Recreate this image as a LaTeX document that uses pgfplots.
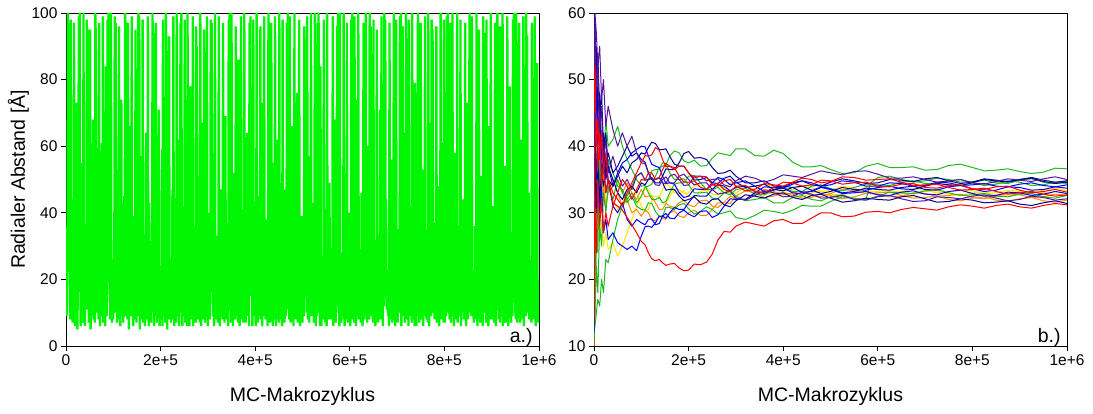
\documentclass[border=0pt]{standalone}
\usepackage{fontspec}
\setmainfont{Liberation Sans}
\usepackage{pgfplots}
\usepackage{pgfplotstable}
\pgfplotsset{compat=1.18}
\definecolor{lgreen}{RGB}{0,245,0}
\definecolor{cred}{RGB}{255,0,0}
\definecolor{cgreen}{RGB}{30,185,30}
\definecolor{cblue}{RGB}{0,0,255}
\definecolor{cnavy}{RGB}{0,0,150}
\definecolor{cpurple}{RGB}{85,20,155}
\definecolor{corange}{RGB}{255,140,0}
\definecolor{cyellow}{RGB}{255,230,0}
\pgfplotstableread[header=false,row sep=\\]{
14\\22\\9\\37\\100\\88\\97\\62\\27\\8\\98\\15\\11\\44\\7\\19\\25\\97\\10\\6\\
28\\13\\73\\9\\5\\16\\21\\99\\85\\100\\30\\6\\17\\55\\10\\24\\7\\100\\14\\9\\
6\\19\\11\\26\\98\\75\\95\\41\\7\\23\\12\\95\\5\\18\\9\\32\\14\\68\\8\\20\\
11\\7\\100\\92\\66\\25\\10\\48\\13\\8\\97\\21\\6\\14\\29\\9\\61\\12\\99\\7\\
17\\10\\23\\6\\84\\14\\9\\27\\98\\80\\100\\19\\36\\8\\13\\100\\22\\7\\15\\9\\
8\\26\\12\\99\\64\\97\\10\\53\\7\\21\\14\\8\\96\\11\\31\\6\\16\\74\\9\\12\\
20\\7\\13\\45\\9\\100\\95\\78\\24\\11\\8\\97\\18\\5\\28\\12\\66\\9\\14\\99\\
10\\16\\6\\22\\12\\39\\8\\95\\13\\7\\19\\26\\9\\100\\87\\99\\5\\57\\21\\8\\
13\\9\\98\\7\\18\\11\\30\\6\\14\\64\\10\\23\\8\\99\\12\\6\\43\\17\\9\\25\\
7\\14\\21\\100\\70\\94\\6\\34\\19\\10\\97\\13\\7\\27\\15\\9\\71\\11\\6\\18\\
24\\8\\11\\59\\6\\98\\16\\9\\13\\22\\7\\100\\91\\75\\5\\38\\12\\8\\93\\14\\
9\\19\\7\\26\\11\\47\\8\\99\\15\\6\\20\\10\\28\\7\\100\\13\\9\\16\\62\\6\\
15\\10\\97\\82\\100\\12\\6\\18\\42\\9\\14\\98\\7\\21\\11\\30\\6\\100\\13\\8\\
12\\6\\19\\78\\10\\25\\8\\14\\99\\6\\17\\9\\36\\11\\7\\96\\68\\90\\8\\51\\
18\\9\\13\\7\\100\\16\\6\\24\\10\\67\\8\\12\\95\\19\\7\\28\\11\\9\\99\\14\\
6\\22\\10\\40\\8\\15\\98\\86\\97\\19\\26\\9\\58\\6\\14\\100\\11\\17\\8\\33\\
11\\7\\17\\99\\13\\6\\21\\9\\47\\10\\16\\8\\97\\12\\24\\7\\15\\69\\9\\20\\
8\\28\\12\\6\\98\\74\\100\\35\\17\\7\\100\\11\\19\\6\\13\\52\\10\\23\\8\\96\\
14\\9\\20\\11\\7\\86\\15\\6\\26\\12\\99\\8\\18\\10\\41\\7\\13\\100\\9\\16\\
7\\17\\10\\64\\9\\13\\24\\6\\97\\80\\99\\20\\15\\30\\6\\12\\98\\9\\19\\11\\
22\\6\\13\\100\\10\\18\\7\\45\\12\\9\\16\\96\\8\\25\\11\\6\\73\\14\\10\\99\\
9\\15\\8\\21\\12\\38\\6\\17\\100\\65\\97\\7\\27\\9\\97\\11\\19\\6\\55\\12\\
16\\8\\99\\11\\6\\19\\14\\62\\9\\23\\7\\100\\12\\16\\8\\34\\10\\6\\98\\13\\
10\\20\\7\\15\\47\\9\\12\\97\\76\\100\\11\\28\\8\\99\\14\\7\\21\\10\\66\\8\\
12\\6\\18\\100\\9\\14\\25\\8\\11\\76\\7\\16\\10\\98\\13\\6\\22\\9\\39\\15\\
7\\23\\11\\9\\96\\71\\92\\17\\30\\10\\99\\8\\15\\12\\7\\57\\19\\9\\100\\11\\
18\\9\\14\\43\\7\\11\\100\\15\\6\\22\\9\\13\\97\\84\\100\\10\\16\\6\\84\\12\\
6\\16\\10\\25\\8\\98\\12\\19\\7\\36\\11\\6\\100\\14\\9\\21\\8\\49\\13\\10\\
14\\8\\22\\11\\99\\6\\17\\9\\68\\13\\7\\24\\10\\96\\79\\100\\12\\31\\6\\100\\
10\\19\\7\\13\\28\\9\\15\\100\\11\\6\\52\\18\\8\\14\\97\\12\\7\\20\\9\\40\\
21\\6\\12\\98\\88\\100\\8\\33\\14\\7\\99\\11\\19\\6\\74\\13\\9\\17\\100\\8\\
9\\14\\27\\7\\11\\46\\10\\6\\18\\97\\12\\8\\23\\15\\100\\9\\13\\7\\60\\11\\
16\\8\\100\\72\\96\\20\\9\\38\\14\\7\\98\\11\\17\\10\\6\\29\\13\\95\\8\\12\\
7\\22\\11\\15\\71\\8\\13\\99\\9\\19\\6\\26\\12\\100\\83\\98\\16\\44\\11\\14\\
12\\9\\18\\6\\97\\14\\8\\23\\10\\56\\7\\15\\11\\100\\9\\21\\6\\13\\98\\10\\
19\\7\\14\\35\\10\\12\\99\\77\\100\\6\\27\\11\\96\\13\\9\\64\\7\\18\\10\\100\\
8\\15\\10\\22\\6\\98\\13\\9\\19\\42\\11\\7\\100\\14\\8\\24\\12\\6\\79\\16\\
13\\6\\20\\11\\100\\86\\97\\7\\30\\12\\97\\8\\18\\10\\53\\6\\14\\22\\9\\99\\
10\\18\\8\\14\\26\\7\\100\\12\\6\\67\\11\\16\\9\\98\\73\\95\\21\\10\\37\\8\\
15\\9\\12\\96\\7\\19\\10\\48\\14\\6\\23\\11\\100\\8\\17\\9\\13\\61\\7\\98\\
11\\7\\24\\13\\9\\99\\81\\100\\10\\33\\12\\8\\97\\15\\7\\20\\11\\100\\9\\14\\
6\\17\\10\\58\\12\\8\\19\\100\\7\\13\\26\\9\\15\\11\\98\\6\\22\\10\\44\\13\\
18\\8\\14\\9\\97\\11\\6\\21\\12\\73\\8\\16\\10\\100\\90\\99\\28\\9\\99\\10\\
9\\13\\7\\20\\11\\36\\14\\8\\100\\10\\6\\18\\12\\95\\9\\24\\7\\15\\51\\11\\
14\\6\\99\\78\\94\\17\\10\\29\\7\\98\\13\\9\\19\\6\\66\\11\\15\\8\\100\\12\\
8\\20\\11\\15\\42\\7\\13\\97\\10\\6\\22\\12\\100\\87\\96\\8\\31\\14\\7\\96\\
12\\9\\17\\100\\6\\14\\11\\54\\8\\19\\7\\25\\13\\99\\10\\6\\18\\12\\78\\9\\
16\\7\\11\\23\\9\\98\\85\\100\\13\\38\\10\\8\\100\\17\\7\\21\\12\\9\\97\\11\\
7\\14\\10\\62\\12\\8\\19\\99\\6\\15\\27\\11\\9\\100\\74\\93\\22\\10\\46\\8\\
13\\9\\24\\11\\7\\97\\16\\8\\12\\33\\10\\99\\14\\6\\18\\9\\85\\11\\7\\20\\
12\\
}\leftdata
\pgfplotsset{
  myax/.style={
    scale only axis, width=473pt, height=333pt,
    axis line style={line width=0.8pt},
    every tick/.style={black, line width=0.8pt},
    tick align=outside, major tick length=5pt,
    xtick pos=left, ytick pos=left,
    xmin=0, xmax=1000,
    xtick={0,200,400,600,800,1000},
    xticklabels={0,2e+5,4e+5,6e+5,8e+5,1e+6},
    ticklabel style={font=\fontsize{15.5}{18}\selectfont},
    label style={font=\fontsize{19.5}{23}\selectfont},
    /pgf/number format/assume math mode=true,
    xlabel={MC-Makrozyklus},
    xlabel style={at={(axis description cs:0.5,-0.168)}, anchor=base},
  },
  rl/.style={line width=1pt, line join=round},
}
\begin{document}
\begin{tikzpicture}[x=1pt,y=1pt]
\path[use as bounding box] (0,0) rectangle (1093,414);
\begin{axis}[myax, at={(66pt,68pt)}, anchor=south west,
  ymin=0, ymax=100, ytick={0,20,40,60,80,100},
  ylabel={Radialer Abstand [Å]},
  ylabel style={at={(axis description cs:-0.0867,0.5)}, anchor=base},
]
\addplot[lgreen, line width=2.3pt] table[x expr=\coordindex, y index=0] {\leftdata};
\node[anchor=base east, inner sep=0pt, font=\fontsize{19.5}{23}\selectfont] at (rel axis cs:0.987,0.009) {a.)};
\end{axis}
\begin{axis}[myax, at={(594pt,68pt)}, anchor=south west,
  ymin=10, ymax=60, ytick={10,20,30,40,50,60},
]
% yellow
\addplot[cyellow, rl] coordinates {(0,20)(2,35)(5,28)(8,32)(12,26)(16,29)(20,25)(25,27)(30,24.5)(40,25.5)(50,23.5)(60,25)(70,27)(80,29)(90,31)(100,32.5)(108,33.6)(115,33.5)(122,32.5)(130,32.5)(138,32.5)(145,31.5)(152,31.4)(160,32.5)(170,33.5)(180,33.5)(190,32.8)(200,33)(212,34.1)(225,34)(238,33.3)(250,33.5)(262,34.2)(275,33.8)(288,32.8)(300,33)(320,33.8)(340,33.5)(360,32.8)(380,33)(400,33.2)(420,32.5)(440,32.4)(460,33)(480,33.3)(500,32.8)(525,32.7)(550,33.3)(575,33.8)(600,33.6)(625,33.1)(650,33.2)(675,33.6)(700,33.4)(725,33)(750,33.1)(775,33.5)(800,33.3)(825,32.9)(850,33)(875,33.4)(900,33.2)(925,33)(950,33.4)(975,33.7)(1000,33.3)};
\addplot[cyellow, rl] coordinates {(0,12)(2,20)(5,42)(8,36)(12,40)(16,33)(20,36)(25,31)(30,34)(40,32)(50,30.5)(60,31.5)(70,33)(80,34)(90,33)(100,31)(108,30.2)(115,30.5)(122,31.8)(130,32)(138,32.3)(145,33.5)(152,34.4)(160,34)(170,33)(180,33)(190,33.3)(200,32.5)(212,32.3)(225,33.2)(238,33.5)(250,32.8)(262,32.7)(275,33.5)(288,34.4)(300,34)(320,33.3)(340,33.6)(360,34.3)(380,34)(400,33.4)(420,33.5)(440,34)(460,33.8)(480,33.2)(500,33.4)(525,34)(550,33.7)(575,33.2)(600,33.2)(625,33.4)(650,32.9)(675,32.8)(700,33.2)(725,33.3)(750,32.8)(775,32.6)(800,33)(825,33.2)(850,32.7)(875,32.5)(900,32.9)(925,33.3)(950,33.1)(975,32.7)(1000,32.8)};
% orange
\addplot[corange, rl] coordinates {(0,10)(2,56)(5,45)(8,48)(12,38)(16,42)(20,35)(25,38)(30,33)(40,35)(50,33)(60,31)(70,32)(80,30)(90,30.5)(100,29.5)(108,30.4)(115,30)(122,28.9)(130,28.8)(138,29.5)(145,29.2)(152,29)(160,30)(170,30.3)(180,29.5)(190,29.3)(200,30)(212,30.4)(225,29.6)(238,29.6)(250,30.5)(262,31.5)(275,31.5)(288,31.4)(300,32.5)(320,33.3)(340,33)(360,32.3)(380,32.5)(400,33)(420,32.8)(440,32.2)(460,32.3)(480,32.9)(500,32.6)(525,32.1)(550,32.4)(575,32.9)(600,32.8)(625,32.4)(650,32.5)(675,33)(700,32.9)(725,32.5)(750,32.6)(775,32.8)(800,32.3)(825,32.1)(850,32.5)(875,32.9)(900,32.7)(925,32.3)(950,32.4)(975,32.8)(1000,32.6)};
\addplot[corange, rl] coordinates {(0,18)(2,25)(5,38)(8,32)(12,36)(16,30)(20,34)(25,31)(30,33)(40,34)(50,35)(60,33)(70,34.5)(80,33)(90,32)(100,33.5)(108,32.4)(115,32.5)(122,32.5)(130,31.5)(138,30.5)(145,30.5)(152,31.4)(160,31)(170,30.8)(180,31.5)(190,31.9)(200,31.2)(212,30.9)(225,31.8)(238,31.9)(250,31)(262,30.8)(275,31.6)(288,32.5)(300,32.2)(320,32)(340,32.8)(360,33.5)(380,33.2)(400,32.7)(420,33)(440,33.2)(460,32.6)(480,32.4)(500,32.9)(525,33.5)(550,33.3)(575,32.9)(600,33)(625,33.1)(650,32.6)(675,32.2)(700,32.3)(725,32.5)(750,32)(775,31.8)(800,32.2)(825,32.4)(850,31.9)(875,31.7)(900,32.1)(925,32.3)(950,31.8)(975,31.6)(1000,31.9)};
% green
\addplot[cgreen, rl] coordinates {(0,12)(2,20)(5,30)(8,24)(12,38)(16,33)(20,40)(25,36)(30,38)(40,36)(50,34)(60,33.5)(70,32)(80,33)(90,31.5)(100,32.5)(108,33.9)(115,34)(122,34.3)(130,35.5)(138,36.8)(145,37)(152,37.2)(160,38.5)(170,39.3)(180,39)(190,37.8)(200,37.5)(212,37.9)(225,37)(238,37.1)(250,38.2)(262,39)(275,38.8)(288,38.6)(300,39.6)(320,39.6)(340,38.6)(360,38.5)(380,39.4)(400,38.9)(420,37.6)(440,36.9)(460,36.9)(480,37.1)(500,36.5)(525,35.9)(550,36)(575,37)(600,37.4)(625,36.8)(650,36.8)(675,36.9)(700,36.4)(725,36.5)(750,37.1)(775,37.3)(800,36.8)(825,36.3)(850,36.4)(875,36.6)(900,36.2)(925,35.9)(950,36.1)(975,36.7)(1000,36.6)};
\addplot[cgreen, rl] coordinates {(0,13)(2,15)(5,22)(8,18)(12,28)(16,25)(20,33)(25,30)(30,34)(40,32)(50,35)(60,33)(70,31.5)(80,32.5)(90,31)(100,30.5)(108,30.4)(115,31.5)(122,31.4)(130,30.2)(138,29.4)(145,29.5)(152,30.8)(160,30.8)(170,30.5)(180,31.2)(190,31.4)(200,30.6)(212,29.8)(225,30.2)(238,30.9)(250,30.5)(262,29.8)(275,30)(288,30.3)(300,29.3)(320,29)(340,29.6)(360,30.4)(380,30.2)(400,29.9)(420,30.4)(440,31.1)(460,31)(480,31)(500,31.7)(525,32.4)(550,32.2)(575,32)(585,34.5)(600,35.3)(625,35.5)(650,35)(675,34.6)(700,34.8)(725,35.2)(750,35)(775,34.6)(800,34.7)(825,34.9)(850,34.5)(875,34.4)(900,34.9)(925,35.1)(950,34.6)(975,34.4)(1000,34.8)};
\addplot[cgreen, rl] coordinates {(0,11)(2,14)(5,25)(8,36)(12,30)(16,41)(20,38)(25,44)(30,40)(40,41)(50,43)(60,40)(70,38)(80,36.5)(90,35)(100,34)(108,34.1)(115,33)(122,32)(130,32)(138,32.3)(145,31.5)(152,31.7)(160,33)(170,34.3)(180,34.5)(190,34.5)(200,35.5)(212,35.6)(225,34.5)(238,33.5)(250,33.5)(262,33.8)(275,33)(288,32.7)(300,33.5)(320,33.7)(340,32.8)(360,32.7)(380,33.5)(400,33.8)(420,33.2)(440,33.2)(460,34)(480,34.2)(500,33.6)(525,33.3)(550,33.8)(575,34.3)(600,34.2)(625,34.1)(650,34.6)(675,34.8)(700,34.4)(725,34.3)(750,34.8)(775,35)(800,34.5)(825,34.1)(850,34.3)(875,34.8)(900,34.6)(925,34.1)(950,34.2)(975,34.6)(1000,34.4)};
\addplot[cgreen, rl] coordinates {(0,12)(2,13)(5,15)(8,17)(12,16)(16,20)(20,18)(25,23)(30,22.5)(40,26)(50,29)(60,31)(70,32.5)(80,34)(90,35.5)(100,36)(108,34.9)(115,35)(122,36.3)(130,36.5)(138,36.5)(145,37.5)(152,37.4)(160,36)(170,35)(180,35)(190,35.1)(200,34.2)(212,33)(225,33)(238,33.1)(250,32.2)(262,32.1)(275,33)(288,33.4)(300,32.5)(320,31.8)(340,32)(360,32.3)(380,31.5)(400,31.5)(420,32.3)(440,32.6)(460,32)(480,31.8)(500,32.4)(525,32.7)(550,32.1)(575,32)(600,32.5)(625,33.1)(650,33)(675,32.9)(700,33.3)(725,33.5)(750,33)(775,32.6)(800,32.7)(825,32.9)(850,32.5)(875,32.4)(900,32.8)(925,32.9)(950,32.4)(975,32.2)(1000,32.6)};
% blue
\addplot[cblue, rl] coordinates {(0,15)(2,45)(5,35)(8,40)(12,30)(16,34)(20,27)(25,29)(30,26)(40,27)(50,25.5)(60,25)(70,24.5)(80,25)(90,24.3)(100,26.5)(108,27.9)(115,28)(122,27.8)(130,28.5)(138,29.5)(145,29.5)(152,29.2)(160,30)(170,30.8)(180,30.5)(190,30.5)(200,31.5)(212,32.6)(225,32.5)(238,32.5)(250,33.5)(262,34.3)(275,34)(288,33.3)(300,33.8)(320,34)(340,33.2)(360,32.9)(380,33.5)(400,33.7)(420,33)(440,32.8)(460,33.3)(480,33.9)(500,33.6)(525,33)(550,33.2)(575,33.7)(600,33.5)(625,33.4)(650,33.8)(675,34)(700,33.5)(725,33.4)(750,33.9)(775,34.1)(800,33.6)(825,33.2)(850,33.4)(875,33.9)(900,33.8)(925,33.4)(950,33.5)(975,33.9)(1000,33.7)};
\addplot[cblue, rl] coordinates {(0,20)(2,55)(5,48)(8,40)(12,44)(16,36)(20,38)(25,33)(30,35)(40,31)(50,30)(60,31.5)(70,29)(80,28)(90,29)(100,28.5)(108,28.2)(115,29)(122,29.1)(130,28.2)(138,28.4)(145,29.5)(152,29.9)(160,29.2)(170,29.1)(180,30)(190,30.4)(200,29.8)(212,29.4)(225,30.2)(238,30.3)(250,29.3)(262,29.7)(275,31)(288,32.1)(300,32)(320,32)(340,33)(360,33.9)(380,33.8)(400,33.7)(420,34.3)(440,34.8)(460,34.5)(480,34)(500,34.2)(525,34.8)(550,34.6)(575,34)(600,34)(625,34.5)(650,34.4)(675,34)(700,34.1)(725,34.6)(750,34.5)(775,34.1)(800,34.2)(825,34.4)(850,34)(875,33.9)(900,34.3)(925,34.5)(950,34.1)(975,33.9)(1000,34.2)};
\addplot[cblue, rl] coordinates {(0,12)(2,30)(5,50)(8,42)(12,46)(16,38)(20,40)(25,35)(30,37)(40,34)(50,36)(60,37.5)(70,38)(80,39)(90,39.5)(100,40)(108,39.9)(115,38.5)(122,37.3)(130,37)(138,36.8)(145,35.5)(152,34.4)(160,34.5)(170,34.3)(180,33)(190,32.3)(200,32.5)(212,33.6)(225,33.5)(238,33.5)(250,34.5)(262,35.3)(275,35)(288,34.2)(300,34.5)(320,34.8)(340,34)(360,33.2)(380,33.4)(400,34)(420,33.8)(440,33.1)(460,33.2)(480,33.8)(500,33.5)(525,32.9)(550,33)(575,33.2)(600,32.7)(625,32.6)(650,33.1)(675,33.3)(700,32.8)(725,32.7)(750,33.2)(775,33.4)(800,32.9)(825,32.5)(850,32.6)(875,33.1)(900,33)(925,32.6)(950,32.8)(975,33.2)(1000,32.9)};
% navy
\addplot[cnavy, rl] coordinates {(0,14)(2,58)(5,50)(8,54)(12,45)(16,48)(20,40)(25,42)(30,37)(40,35)(50,33)(60,32)(70,33.5)(80,34)(90,33)(100,34.5)(108,34.2)(115,35)(122,35.3)(130,34.5)(138,34.5)(145,35.5)(152,36.6)(160,36.5)(170,36.5)(180,37.5)(190,38.9)(200,39.2)(212,38.2)(225,38.3)(238,38)(250,36.8)(262,35.9)(275,36)(288,36.4)(300,35.5)(320,34.5)(340,34.5)(360,34.8)(380,34)(400,33.9)(420,34.5)(440,34.8)(460,34.2)(480,34)(500,34.6)(525,35.1)(550,34.8)(575,34.4)(600,34.5)(625,35)(650,34.9)(675,34.7)(700,35.1)(725,35.3)(750,34.8)(775,34.4)(800,34.6)(825,35.1)(850,34.9)(875,34.7)(900,35)(925,35.2)(950,34.7)(975,34.4)(1000,34.6)};
\addplot[cnavy, rl] coordinates {(0,60)(2,50)(5,55)(8,45)(12,48)(16,40)(20,42)(25,37)(30,39)(40,36)(50,37)(60,38.5)(70,40)(80,38.5)(90,39)(100,38)(108,37.6)(115,36)(122,35)(130,35)(138,35.3)(145,34.5)(152,33.4)(160,33.5)(170,33.5)(180,32.5)(190,31.8)(200,32)(212,32.4)(225,31.5)(238,31.3)(250,32)(262,32.1)(275,31.2)(288,30.9)(300,31.8)(320,32.7)(340,32.5)(360,32.2)(380,32.8)(400,33)(420,32.3)(440,32)(460,32.6)(480,32.8)(500,32.2)(525,31.6)(550,31.8)(575,32.2)(600,32)(625,31.9)(650,32.4)(675,32.6)(700,32.1)(725,31.6)(750,31.7)(775,32.1)(800,31.9)(825,31.5)(850,31.6)(875,31.8)(900,31.3)(925,31.1)(950,31.5)(975,31.8)(1000,31.4)};
\addplot[cnavy, rl] coordinates {(0,25)(2,40)(5,30)(8,38)(12,32)(16,36)(20,34)(25,37)(30,35)(40,34)(50,35.5)(60,37)(70,36)(80,37.5)(90,38)(100,39)(108,38.8)(115,39.8)(122,40.6)(130,40.4)(138,39.5)(145,39.5)(152,39.6)(160,38.5)(170,37.3)(180,37)(190,37)(200,36)(212,34.9)(225,35)(238,35.3)(250,34.5)(262,34.4)(275,35.2)(288,35.5)(300,34.6)(320,33.8)(340,34)(360,34.3)(380,33.5)(400,33.3)(420,33.8)(440,34)(460,33.4)(480,32.9)(500,33.2)(525,33.8)(550,33.5)(575,33.4)(600,33.8)(625,34)(650,33.6)(675,33.5)(700,34)(725,34.4)(750,34.2)(775,34.1)(800,34.5)(825,35)(850,34.8)(875,34.6)(900,35)(925,35.3)(950,34.9)(975,34.6)(1000,34.8)};
% purple
\addplot[cpurple, rl] coordinates {(0,35)(2,60)(5,57)(8,52)(12,55)(16,47)(20,50)(25,43)(30,46)(40,42.5)(50,40)(60,42)(70,40)(80,41.5)(90,39)(100,37.5)(108,37.4)(115,36)(122,35)(130,35)(138,35.3)(145,34.5)(152,34.4)(160,35.5)(170,35.8)(180,35)(190,34.1)(200,34.2)(212,35.5)(225,35.5)(238,34.8)(250,35)(262,35.1)(275,34.2)(288,33.9)(300,34.8)(320,35.5)(340,35.2)(360,34.6)(380,35)(400,35.7)(420,35.5)(440,35.3)(460,35.8)(480,36.3)(500,36)(525,35.7)(550,36.2)(575,36.3)(600,35.8)(625,35.2)(650,35.2)(675,35.4)(700,35)(725,34.6)(750,34.8)(775,35)(800,34.5)(825,34.3)(850,34.7)(875,35.1)(900,34.9)(925,34.7)(950,35.1)(975,35.4)(1000,35)};
\addplot[cpurple, rl] coordinates {(0,13)(2,58)(5,48)(8,53)(12,42)(16,46)(20,38)(25,41)(30,36)(40,38.5)(50,36)(60,34)(70,35)(80,33.5)(90,35.5)(100,36)(108,34.9)(115,35)(122,35.1)(130,34.2)(138,34.1)(145,35)(152,35.4)(160,34.5)(170,34.5)(180,35.5)(190,35.8)(200,35)(212,34.2)(225,34.5)(238,34.5)(250,33.5)(262,32.8)(275,33)(288,33.2)(300,32.2)(320,31.9)(340,32.6)(360,33.3)(380,33)(400,32.4)(420,32.5)(440,33.1)(460,32.8)(480,32.2)(500,32.3)(525,32.6)(550,32)(575,31.9)(600,32.4)(625,32.6)(650,32.1)(675,31.7)(700,31.8)(725,32.4)(750,32.3)(775,32.1)(800,32.5)(825,32.7)(850,32.2)(875,31.8)(900,32)(925,32.5)(950,32.3)(975,31.9)(1000,32.1)};
% red
\addplot[cred, rl] coordinates {(0,45)(2,52)(5,40)(8,44)(12,38)(16,42)(20,36)(25,39)(30,35)(40,33)(50,32)(60,31)(70,33)(80,34.5)(90,36)(100,37.5)(108,38.6)(115,38.5)(122,38.7)(130,39.8)(138,39.4)(145,38)(152,36.9)(160,37)(170,36.8)(180,35.5)(190,34.6)(200,34.6)(212,34.8)(225,33.8)(238,33.5)(250,34.2)(262,34.4)(275,33.5)(288,33.2)(300,34)(320,34.1)(340,33.2)(360,33)(380,33.8)(400,34.6)(420,34.5)(440,34)(460,34.2)(480,34.9)(500,34.8)(525,34.3)(550,34.5)(575,34.6)(600,34)(625,33.9)(650,34.3)(675,34.4)(700,33.8)(725,33.7)(750,34.1)(775,34.2)(800,33.6)(825,33.5)(850,33.9)(875,34)(900,33.4)(925,33)(950,33.2)(975,33.5)(1000,33.1)};
\addplot[cred, rl] coordinates {(0,16)(2,30)(5,24)(8,35)(12,28)(16,32)(20,27)(25,30)(30,28)(40,31)(50,33)(60,35)(70,34)(80,32)(90,33.5)(100,35)(108,34.9)(115,36)(122,36)(130,35)(138,35.3)(145,36.5)(152,37.4)(160,37)(170,36.5)(180,37)(190,37)(200,36)(212,35.2)(225,35.5)(238,35.4)(250,34.2)(262,34)(275,34.8)(288,35)(300,34)(320,33.3)(340,33.5)(360,34.4)(380,34.2)(400,34)(420,34.6)(440,35.2)(460,35)(480,34.5)(500,34.7)(525,35.4)(550,35.3)(575,34.9)(600,35)(625,35.1)(650,34.6)(675,34.1)(700,34.2)(725,34.3)(750,33.8)(775,33.4)(800,33.5)(825,33.7)(850,33.2)(875,32.8)(900,33)(925,33.2)(950,32.8)(975,32.5)(1000,32.7)};
\addplot[cred, rl] coordinates {(0,14)(2,40)(5,44)(8,36)(12,42)(16,34)(20,37)(25,33)(30,35)(40,31.5)(50,31)(60,30.4)(70,29.3)(80,28.2)(90,27)(100,25.7)(108,25.2)(115,24)(122,23.1)(130,22.8)(138,23)(145,22.5)(152,22.1)(160,22.3)(170,22.4)(180,21.7)(190,21.3)(200,21.4)(212,22.3)(225,22.2)(238,22.6)(250,23.8)(262,25.9)(275,27.2)(288,27.1)(300,28)(320,28.6)(340,28.3)(360,28)(380,28.8)(400,29)(420,28.4)(440,28.4)(460,29.2)(480,30)(500,30)(525,29.4)(550,29.5)(575,30.1)(600,30.2)(625,30)(650,30.5)(675,30.8)(700,30.6)(725,30.4)(750,30.9)(775,31.2)(800,31)(825,30.7)(850,31.1)(875,31.3)(900,30.9)(925,30.7)(950,31.1)(975,31.4)(1000,31.2)};
\node[anchor=base east, inner sep=0pt, font=\fontsize{19.5}{23}\selectfont] at (rel axis cs:0.987,0.009) {b.)};
\end{axis}
\end{tikzpicture}
\end{document}
